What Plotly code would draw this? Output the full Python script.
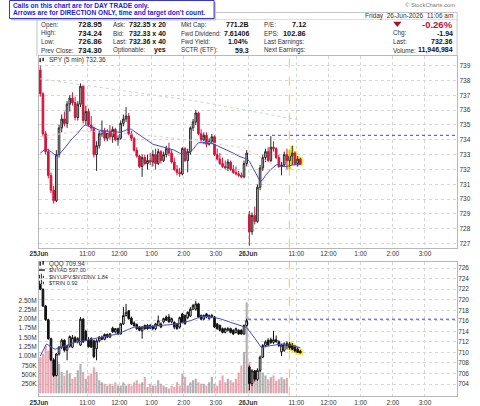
import plotly.graph_objects as go

# ---------------- data ----------------
# 5-minute bar index: 0-77 = 25 Jun (9:30-15:55), 78-97 = 26 Jun (9:30-11:05)
bars = list(range(98))

spy_open = [738.7, 737.1, 734.4, 733.2, 731.6, 730.6, 729.9, 733.0, 734.8, 735.4,
            735.1, 736.4, 736.8, 736.5, 735.5, 736.4, 737.6, 735.3, 735.9, 735.0,
            734.8, 733.0, 733.6, 734.4, 734.6, 734.1, 734.5, 734.2, 734.7, 734.0,
            734.1, 735.1, 735.4, 735.6, 734.4, 734.1, 733.3, 732.9, 732.2, 732.8,
            732.4, 732.6, 732.5, 733.0, 732.4, 733.2, 732.6, 733.0, 733.4, 733.1,
            732.5, 732.0, 731.8, 731.7, 733.4, 732.6, 733.2, 734.8, 735.2, 735.8,
            734.4, 734.0, 734.3, 733.7, 733.9, 734.2, 733.0, 732.7, 732.4, 732.2,
            732.1, 732.5, 732.0, 731.8, 731.7, 731.6, 731.5, 732.4,
            728.95, 727.8, 728.9, 728.5, 730.8, 732.1, 732.8, 733.2, 732.6, 733.5,
            733.4, 732.8, 732.2, 732.3, 733.0, 732.6, 732.9, 733.1, 732.4, 732.7]
spy_high = [739.0, 737.2, 734.6, 733.4, 731.8, 730.9, 733.3, 735.0, 735.7, 735.9,
            736.6, 737.0, 737.2, 736.9, 736.6, 737.8, 737.7, 736.3, 736.1, 735.6,
            734.9, 733.9, 734.6, 735.3, 734.8, 734.7, 735.0, 734.9, 734.8, 734.3,
            735.3, 735.7, 736.2, 735.8, 734.6, 734.2, 733.5, 733.0, 733.0, 733.0,
            733.0, 733.1, 733.3, 733.4, 733.4, 733.3, 733.2, 733.6, 733.8, 733.3,
            732.8, 732.3, 732.1, 733.5, 733.5, 733.4, 734.9, 735.4, 736.0, 735.9,
            734.7, 734.5, 734.5, 734.1, 734.4, 734.3, 733.4, 733.1, 732.8, 732.6,
            732.7, 732.6, 732.3, 732.2, 731.9, 731.8, 732.6, 733.3,
            729.2, 729.1, 729.5, 731.0, 732.3, 733.0, 733.4, 733.5, 734.24, 733.9,
            733.5, 733.0, 732.5, 733.2, 733.4, 733.3, 733.6, 733.2, 732.9, 732.8]
spy_low = [736.9, 734.2, 733.0, 731.4, 730.4, 729.7, 729.8, 732.8, 734.5, 734.9,
           734.8, 735.9, 736.3, 735.3, 735.3, 736.2, 735.1, 735.0, 734.9, 734.6,
           732.8, 731.9, 733.4, 734.2, 733.9, 733.9, 734.0, 733.8, 733.9, 733.6,
           734.0, 734.9, 735.2, 734.3, 733.9, 733.2, 732.8, 732.1, 731.5, 732.3,
           732.0, 732.3, 732.2, 732.0, 732.3, 732.4, 732.5, 732.8, 732.9, 732.4,
           731.9, 731.6, 731.5, 731.6, 732.5, 731.8, 733.0, 734.6, 735.0, 734.3,
           733.8, 733.7, 733.5, 733.6, 733.7, 732.9, 732.6, 732.3, 732.1, 732.0,
           731.9, 731.9, 731.7, 731.6, 731.5, 731.4, 731.4, 732.2,
           726.86, 727.6, 728.3, 728.4, 730.6, 731.9, 732.5, 732.5, 732.5, 733.2,
           732.7, 732.1, 731.6, 732.2, 732.0, 732.0, 732.3, 732.3, 732.2, 732.3]
spy_close = [737.1, 734.4, 733.2, 731.6, 730.6, 729.9, 733.0, 734.8, 735.4, 735.1,
             736.4, 736.8, 736.5, 735.5, 736.4, 737.6, 735.3, 735.9, 735.0, 734.8,
             733.0, 733.6, 734.4, 734.6, 734.1, 734.5, 734.2, 734.7, 734.0, 734.1,
             735.1, 735.4, 735.6, 734.4, 734.1, 733.3, 732.9, 732.2, 732.8, 732.4,
             732.6, 732.5, 733.0, 732.4, 733.2, 732.6, 733.0, 733.4, 733.1, 732.5,
             732.0, 731.8, 731.7, 733.4, 732.6, 733.2, 734.8, 735.2, 735.8, 734.4,
             734.0, 734.3, 733.7, 733.9, 734.2, 733.0, 732.7, 732.4, 732.2, 732.1,
             732.5, 732.0, 731.8, 731.7, 731.6, 731.5, 732.4, 733.1,
             727.8, 728.9, 728.5, 730.8, 732.1, 732.8, 733.2, 732.6, 733.5, 733.4,
             732.8, 732.2, 732.3, 733.0, 732.6, 732.9, 733.1, 732.4, 732.7, 732.36]

qqq_open = [722.9, 722.0, 718.8, 716.2, 712.6, 708.6, 705.6, 709.7, 711.0, 712.3,
            710.4, 711.2, 711.0, 712.8, 712.0, 711.4, 716.3, 714.0, 712.3, 712.6,
            712.2, 710.7, 712.2, 712.9, 712.5, 713.4, 712.9, 714.6, 713.9, 714.5,
            713.5, 715.4, 717.0, 717.9, 716.5, 715.6, 715.3, 714.8, 714.1, 715.1,
            715.1, 714.6, 714.9, 714.5, 715.1, 715.4, 715.8, 716.7, 716.7, 715.8,
            715.7, 715.4, 714.8, 717.3, 717.0, 716.6, 716.9, 718.2, 718.2, 719.2,
            717.0, 716.3, 717.3, 716.4, 716.7, 716.7, 715.4, 715.1, 714.5, 713.8,
            714.2, 714.5, 714.2, 713.8, 714.2, 714.2, 713.5, 715.1,
            707.2, 704.1, 706.5, 704.9, 706.6, 709.1, 711.3, 712.3, 712.4, 711.9,
            712.4, 712.0, 710.1, 710.4, 711.3, 711.6, 711.3, 711.0, 710.6, 710.2]
qqq_high = [723.0, 722.1, 719.0, 716.4, 712.8, 708.9, 709.9, 711.2, 712.6, 712.5,
            711.4, 713.2, 713.3, 713.1, 712.9, 716.7, 716.5, 714.3, 712.9, 712.9,
            712.4, 712.5, 713.1, 713.2, 713.6, 713.6, 713.7, 714.9, 714.6, 714.7,
            715.6, 718.6, 719.2, 718.0, 716.8, 715.9, 715.5, 715.0, 715.0, 715.3,
            715.4, 715.4, 715.2, 715.6, 717.0, 715.7, 716.6, 717.0, 717.3, 716.6,
            715.9, 715.6, 716.8, 717.5, 717.2, 717.8, 718.6, 719.2, 719.8, 719.4,
            717.2, 717.2, 717.5, 717.2, 717.3, 716.9, 715.6, 715.3, 714.7, 714.7,
            714.8, 714.7, 714.4, 714.7, 714.4, 714.4, 715.3, 716.4,
            707.5, 706.8, 706.7, 707.0, 709.4, 711.6, 712.3, 712.7, 712.8, 714.1,
            713.2, 712.3, 711.6, 711.9, 712.1, 712.0, 711.8, 711.4, 711.0, 710.5]
qqq_low = [721.8, 718.6, 716.0, 712.4, 708.3, 705.3, 705.5, 709.4, 710.6, 710.1,
           708.5, 710.9, 710.8, 711.9, 711.7, 711.2, 711.8, 712.1, 710.9, 710.9,
           708.9, 708.5, 711.9, 712.3, 712.3, 712.7, 712.7, 713.7, 713.6, 713.3,
           713.4, 715.2, 716.8, 716.2, 715.2, 714.8, 714.3, 714.0, 712.6, 714.3,
           714.3, 714.4, 714.2, 714.2, 715.0, 714.6, 715.5, 716.0, 715.6, 715.5,
           714.4, 714.3, 714.5, 715.5, 715.2, 716.3, 716.7, 718.0, 717.9, 716.5,
           716.1, 716.1, 716.5, 716.2, 716.5, 714.6, 714.3, 714.0, 713.6, 713.6,
           714.0, 713.6, 713.3, 713.6, 713.3, 713.3, 713.3, 714.9,
           702.8, 703.6, 704.5, 704.6, 706.3, 708.9, 711.0, 711.3, 711.6, 711.6,
           711.9, 711.0, 709.3, 710.1, 710.6, 710.5, 710.4, 710.0, 709.9, 709.8]
qqq_close = [722.0, 718.8, 716.2, 712.6, 708.6, 705.6, 709.7, 711.0, 712.3, 710.4,
             711.2, 713.0, 712.8, 712.0, 712.6, 716.3, 712.0, 712.3, 711.1, 711.0,
             709.2, 712.2, 712.9, 712.5, 713.4, 712.9, 713.5, 713.9, 714.5, 713.5,
             715.4, 717.0, 717.6, 716.4, 715.4, 715.1, 714.5, 714.2, 714.8, 714.5,
             714.5, 715.1, 714.5, 715.4, 716.0, 714.8, 716.4, 716.1, 715.8, 716.4,
             714.8, 714.5, 716.6, 715.7, 715.5, 717.6, 718.2, 718.9, 719.2, 716.7,
             716.3, 717.0, 716.7, 717.0, 717.0, 714.8, 714.5, 714.2, 713.8, 714.5,
             714.5, 713.8, 713.5, 714.5, 713.5, 713.5, 715.1, 716.0,
             704.1, 706.5, 704.9, 706.6, 709.1, 711.3, 712.0, 711.4, 711.9, 712.4,
             712.0, 711.3, 711.4, 711.6, 711.7, 710.9, 710.6, 710.3, 710.0, 709.94]

# volume in millions (no volume drawn after bar 92)
volume_m = [0.97, 1.06, 1.28, 1.15, 1.10, 0.53, 0.70, 0.79, 0.57, 0.48,
            0.62, 0.53, 0.39, 0.44, 0.62, 0.79, 0.57, 0.39, 0.48, 0.53,
            0.70, 0.57, 0.35, 0.30, 0.26, 0.21, 0.26, 0.21, 0.30, 0.21,
            0.21, 0.30, 0.21, 0.26, 0.21, 0.30, 0.35, 0.26, 0.30, 0.44,
            0.17, 0.26, 0.21, 0.21, 0.35, 0.26, 0.21, 0.17, 0.13, 0.21,
            0.17, 0.30, 0.21, 0.53, 0.44, 0.21, 0.30, 0.35, 0.39, 0.30,
            0.26, 0.26, 0.21, 0.30, 0.44, 0.26, 0.21, 0.35, 0.48, 0.30,
            0.39, 0.35, 0.30, 0.39, 0.55, 0.75, 1.10, 2.44,
            0.85, 0.61, 0.48, 0.43, 0.65, 0.56, 0.48, 0.38, 0.43, 0.48,
            0.34, 0.38, 0.43, 0.38, 0.41, None, None, None, None, None]

# moving averages (bar index, value)
spy_ma_x = [0, 2, 4, 6, 8, 10, 12, 14, 16, 17, 18, 20, 22, 24, 26, 28, 30, 32, 33, 34,
            36, 38, 40, 42, 44, 46, 48, 50, 52, 54, 55, 56, 57, 58, 59, 62, 64, 66, 68,
            70, 72, 74, 76, 77, 78, 80, 82, 83, 84, 86, 88, 89, 90, 92, 94, 97]
spy_ma_y = [733.1, 733.4, 733.2, 732.9, 733.2, 733.65, 734.1, 734.45, 734.9, 735.0,
            734.9, 734.8, 734.65, 734.6, 734.55, 734.5, 734.5, 734.65, 734.75, 734.7,
            734.45, 734.15, 733.95, 733.7, 733.6, 733.5, 733.4, 733.3, 733.1, 733.05,
            733.0, 733.2, 733.35, 733.6, 733.8, 733.8, 733.75, 733.6, 733.45, 733.3,
            733.1, 732.9, 732.75, 732.7, 732.55, 731.9, 731.2, 731.3, 731.6, 732.0,
            732.3, 732.35, 732.2, 732.2, 732.3, 732.35]
spy_slow_x = [0, 20, 40, 60, 72, 80, 96]
spy_slow_y = [738.1, 737.6, 737.05, 736.55, 736.15, 735.9, 735.35]
spy_mid_x = [0, 15, 37, 60, 76, 82, 88]
spy_mid_y = [734.2, 734.6, 734.35, 733.9, 733.45, 732.8, 732.2]

qqq_ma_x = [0, 2.3, 5.5, 9, 13, 17, 20, 23, 26, 29, 33, 35, 39, 45, 51, 56, 60, 63, 67,
            71, 75, 77, 80, 82.5, 85, 90, 94, 97]
qqq_ma_y = [709.3, 711.6, 710.6, 711.2, 711.9, 712.3, 712.6, 712.9, 713.2, 713.5,
            714.4, 714.8, 714.8, 715.1, 715.4, 716.0, 716.8, 716.8, 716.4, 715.7,
            715.1, 714.7, 712.7, 710.9, 711.2, 711.6, 711.3, 710.9]

spy_prev_close = 734.30
qqq_prev_close = 716.3
highlight_from = 93       # highlighted (yellow) bars
marker_bar = 92.9         # orange dashed time marker

tick_pos = [-0.5, 17.5, 29.5, 41.5, 53.5, 65.5, 77.5, 95.5, 107.5, 119.5, 131.5, 143.5]
tick_text = ['<b>25Jun</b>', '11:00', '12:00', '1:00', '2:00', '3:00',
             '<b>26Jun</b>', '11:00', '12:00', '1:00', '2:00', '3:00']
spy_ticks = [727, 728, 729, 730, 731, 732, 733, 734, 735, 736, 737, 738, 739]
qqq_ticks = [704, 706, 708, 710, 712, 714, 716, 718, 720, 722, 724, 726]
vol_ticks = [0.25, 0.5, 0.75, 1.0, 1.25, 1.5, 1.75, 2.0, 2.25, 2.5]
vol_tick_text = ['250K', '500K', '750K', '1.00M', '1.25M', '1.50M', '1.75M', '2.00M', '2.25M', '2.50M']

# ---------------- figure ----------------
W, H = 480, 406
FONT = 'Liberation Sans, Arial, sans-serif'
def px(x): return x / W
def py(y): return 1 - y / H

XD = [px(30.5), px(456.7)]
TOP = [py(248.3), py(56.5)]
BOT = [py(396.7), py(262.7)]

fig = go.Figure()

# top panel faint averages
fig.add_trace(go.Scatter(x=spy_slow_x, y=spy_slow_y, mode='lines', xaxis='x', yaxis='y',
                         line=dict(color='#c9d9c9', width=1, dash='dot'), hoverinfo='skip'))
fig.add_trace(go.Scatter(x=spy_mid_x, y=spy_mid_y, mode='lines', xaxis='x', yaxis='y',
                         line=dict(color='#f0c8cc', width=1, dash='dot'), hoverinfo='skip'))
hl = slice(highlight_from, len(bars))
fig.add_trace(go.Candlestick(x=bars[hl], open=spy_open[hl], high=spy_high[hl], low=spy_low[hl],
                             close=spy_close[hl], xaxis='x', yaxis='y',
                             increasing=dict(line=dict(color='#f4ee40', width=4), fillcolor='#f4ee40'),
                             decreasing=dict(line=dict(color='#f4ee40', width=4), fillcolor='#f4ee40'),
                             hoverinfo='skip'))
fig.add_trace(go.Candlestick(x=bars, open=spy_open, high=spy_high, low=spy_low, close=spy_close,
                             xaxis='x', yaxis='y',
                             increasing=dict(line=dict(color='#2a2a2a', width=1), fillcolor='#c4c4c4'),
                             decreasing=dict(line=dict(color='#d4143c', width=1), fillcolor='#d4143c')))
fig.add_trace(go.Scatter(x=spy_ma_x, y=spy_ma_y, mode='lines', xaxis='x', yaxis='y',
                         line=dict(color='#4a4ac8', width=1), hoverinfo='skip'))

# lower panel: volume (left axis)
vol_colors = ['rgba(222,120,138,0.65)' if c < o else 'rgba(135,135,135,0.65)'
              for o, c in zip(spy_open, spy_close)]
fig.add_trace(go.Bar(x=bars, y=volume_m, xaxis='x2', yaxis='y2', marker_color=vol_colors,
                     marker_line_width=0, hoverinfo='skip'))
# QQQ candles (right axis)
fig.add_trace(go.Candlestick(x=bars[hl], open=qqq_open[hl], high=qqq_high[hl], low=qqq_low[hl],
                             close=qqq_close[hl], xaxis='x2', yaxis='y3',
                             increasing=dict(line=dict(color='#f4ee40', width=4), fillcolor='#f4ee40'),
                             decreasing=dict(line=dict(color='#f4ee40', width=4), fillcolor='#f4ee40'),
                             hoverinfo='skip'))
fig.add_trace(go.Candlestick(x=bars, open=qqq_open, high=qqq_high, low=qqq_low, close=qqq_close,
                             xaxis='x2', yaxis='y3',
                             increasing=dict(line=dict(color='#111111', width=1), fillcolor='#ffffff'),
                             decreasing=dict(line=dict(color='#111111', width=1), fillcolor='#111111')))
fig.add_trace(go.Scatter(x=qqq_ma_x, y=qqq_ma_y, mode='lines', xaxis='x2', yaxis='y3',
                         line=dict(color='#4a4ac8', width=1), hoverinfo='skip'))

grid = dict(showgrid=True, gridcolor='#d6d6d6', griddash='dot', gridwidth=1, zeroline=False,
            ticks='', showline=True, mirror=True, linecolor='#b8b8b8', linewidth=1)
xcommon = dict(range=[-0.5, 155.5], tickmode='array', tickvals=tick_pos, ticktext=tick_text,
               tickfont=dict(size=6.5, color='#333', family=FONT), rangeslider=dict(visible=False), **grid)

fig.update_layout(
    width=W, height=H, autosize=False, margin=dict(l=0, r=0, t=0, b=0),
    paper_bgcolor='white', plot_bgcolor='white', showlegend=False, bargap=0.2, boxgap=0.12,
    font=dict(family=FONT, size=6.5, color='#333'),
    xaxis=dict(domain=XD, anchor='y', **xcommon),
    xaxis2=dict(domain=XD, anchor='y2', **xcommon),
    yaxis=dict(domain=TOP, anchor='x', side='right', range=[726.729, 739.618], tickmode='array',
               tickvals=spy_ticks, tickfont=dict(size=6.5, color='#333'), **grid),
    yaxis2=dict(domain=BOT, anchor='x2', side='left', range=[-0.0643, 3.525], tickmode='array',
                tickvals=vol_ticks, ticktext=vol_tick_text, tickfont=dict(size=6.5, color='#333'),
                showgrid=False, zeroline=False, ticks='', showline=True, mirror=True,
                linecolor='#b8b8b8'),
    yaxis3=dict(overlaying='y2', anchor='x2', side='right', range=[701.787, 727.135], tickmode='array',
                tickvals=qqq_ticks, tickfont=dict(size=6.5, color='#333'),
                showgrid=True, gridcolor='#d6d6d6', griddash='dot', zeroline=False, ticks='',
                showline=False),
)

shapes = []
# reference lines
shapes.append(dict(type='line', xref='x', yref='y', x0=77.5, x1=155.5, y0=spy_prev_close,
                   y1=spy_prev_close, line=dict(color='#3c3cf0', width=1, dash='dot')))
shapes.append(dict(type='line', xref='x2', yref='y3', x0=77.5, x1=155.5, y0=qqq_prev_close,
                   y1=qqq_prev_close, line=dict(color='#3c3cf0', width=1, dash='dot')))
shapes.append(dict(type='line', xref='x', yref='y domain', x0=marker_bar, x1=marker_bar, y0=0, y1=1,
                   line=dict(color='#f6c35c', width=1, dash='dash')))
shapes.append(dict(type='line', xref='x2', yref='y2 domain', x0=marker_bar, x1=marker_bar, y0=0, y1=1,
                   line=dict(color='#f6c35c', width=1, dash='dash')))

def pline(x0, y0, x1, y1, color='#c4c4c4', width=1):
    shapes.append(dict(type='line', xref='paper', yref='paper', x0=px(x0), y0=py(y0),
                       x1=px(x1), y1=py(y1), line=dict(color=color, width=width)))

def prect(x0, y0, x1, y1, fill, line=None, lw=1):
    shapes.append(dict(type='rect', xref='paper', yref='paper', x0=px(x0), y0=py(y0),
                       x1=px(x1), y1=py(y1), fillcolor=fill,
                       line=dict(color=line or fill, width=lw if line else 0)))

# info frame
pline(28.5, 12.5, 456.7, 12.5)
pline(28.5, 19.5, 456.7, 19.5, color='#dddddd')
pline(28.5, 12.5, 28.5, 56.5)
pline(456.7, 12.5, 456.7, 56.5)
# notice box
prect(2, 2, 211, 20.5, '#c8c8c8')
prect(0.5, 0.5, 209, 18.5, '#ffffff', line='#3333cc')
# red down triangle
shapes.append(dict(type='path', xref='paper', yref='paper',
                   path=f'M {px(391.5)} {py(21.8)} L {px(400)} {py(21.8)} L {px(395.75)} {py(27)} Z',
                   fillcolor='#a8102c', line=dict(width=0)))
# legend icons
prect(31, 58.5, 32.5, 62.5, '#222')
prect(34, 57.8, 35.5, 61.5, '#222')
prect(31, 262.3, 32.5, 266.3, '#222')
prect(34, 261.6, 35.5, 265.3, '#222')
pline(30.5, 270.7, 36.5, 270.7, color='#222', width=1.5)
for yy in (277, 283):
    prect(30.5, yy - 1.5, 31.5, yy + 2, '#222')
    prect(32.5, yy - 2.5, 33.5, yy + 2, '#222')
    prect(34.5, yy - 0.5, 35.5, yy + 2, '#222')
fig.update_layout(shapes=shapes)

def T(x, y, s, size=6.4, color='#222', xa='left', bold=False, family=FONT):
    fig.add_annotation(x=px(x), y=py(y), xref='paper', yref='paper',
                       text=f'<b>{s}</b>' if bold else s, showarrow=False,
                       xanchor=xa, yanchor='middle', borderpad=0,
                       font=dict(size=size, color=color, family=family))

# notice
T(3, 5.8, 'Calls on this chart are for DAY TRADE only.', size=6.6, color='#1c1cdc', bold=True)
T(3, 13.4, "Arrows are for DIRECTION ONLY, time and target don't count.", size=6.6, color='#1c1cdc', bold=True)
# header right
T(456, 5.5, '© StockCharts.com', size=5.8, color='#777', xa='right')
T(453.5, 15.8, 'Friday  26-Jun-2026  11:06 am', size=6.5, color='#333', xa='right')

rows = [24.8, 33.3, 41.8, 50.3]
colA = [('Open:', '728.95'), ('High:', '734.24'), ('Low:', '726.86'), ('Prev Close:', '734.30')]
colB = [('Ask:', '732.35 x 20'), ('Bid:', '732.33 x 40'), ('Last:', '732.36 x 40'), ('Optionable:', 'yes')]
colC = [('Mkt Cap:', '771.2B'), ('Fwd Dividend:', '7.61406'), ('Fwd Yield:', '1.04%'), ('SCTR (ETF):', '59.3')]
colD = [('P/E:', '7.12'), ('EPS:', '102.86'), ('Last Earnings:', ''), ('Next Earnings:', '')]
for (lx, vx, vs, col) in [(32, 97, 7.8, colA), (104.5, 161, 7.0, colB), (174, 245.5, 7.0, colC),
                          (259, 303.5, 7.4, colD)]:
    for r, (lab, val) in zip(rows, col):
        T(lx, r, lab, size=6.3, color='#333')
        if val:
            T(vx, r + 0.2, val, size=vs, color='#111', xa='right', bold=True)

T(453.5, 24.4, '-0.26%', size=9.5, color='#c0103c', xa='right', bold=True)
for r, (lab, val) in zip(rows[1:], [('Chg:', '-1.94'), ('Last:', '732.36'), ('Volume:', '11,946,984')]):
    T(390, r, lab, size=6.3, color='#333')
    T(453.5, r + 0.2, val, size=7.0, color='#111', xa='right', bold=True)

# panel legends
T(39.5, 60.5, 'SPY (5 min) 732.36', size=6.5, color='#333')
T(39.5, 264.3, 'QQQ 709.94', size=6.3, color='#333')
T(39.5, 270.8, '$NYAD 597.00', size=5.6, color='#333')
T(39.5, 277.2, '$NYUPV:$NYDNV 1.84', size=5.6, color='#333')
T(39.5, 283.4, '$TRIN 0.92', size=5.6, color='#333')

fig.write_html('out.html', config={'displayModeBar': False},
               post_script="document.body.style.margin='0px';")
